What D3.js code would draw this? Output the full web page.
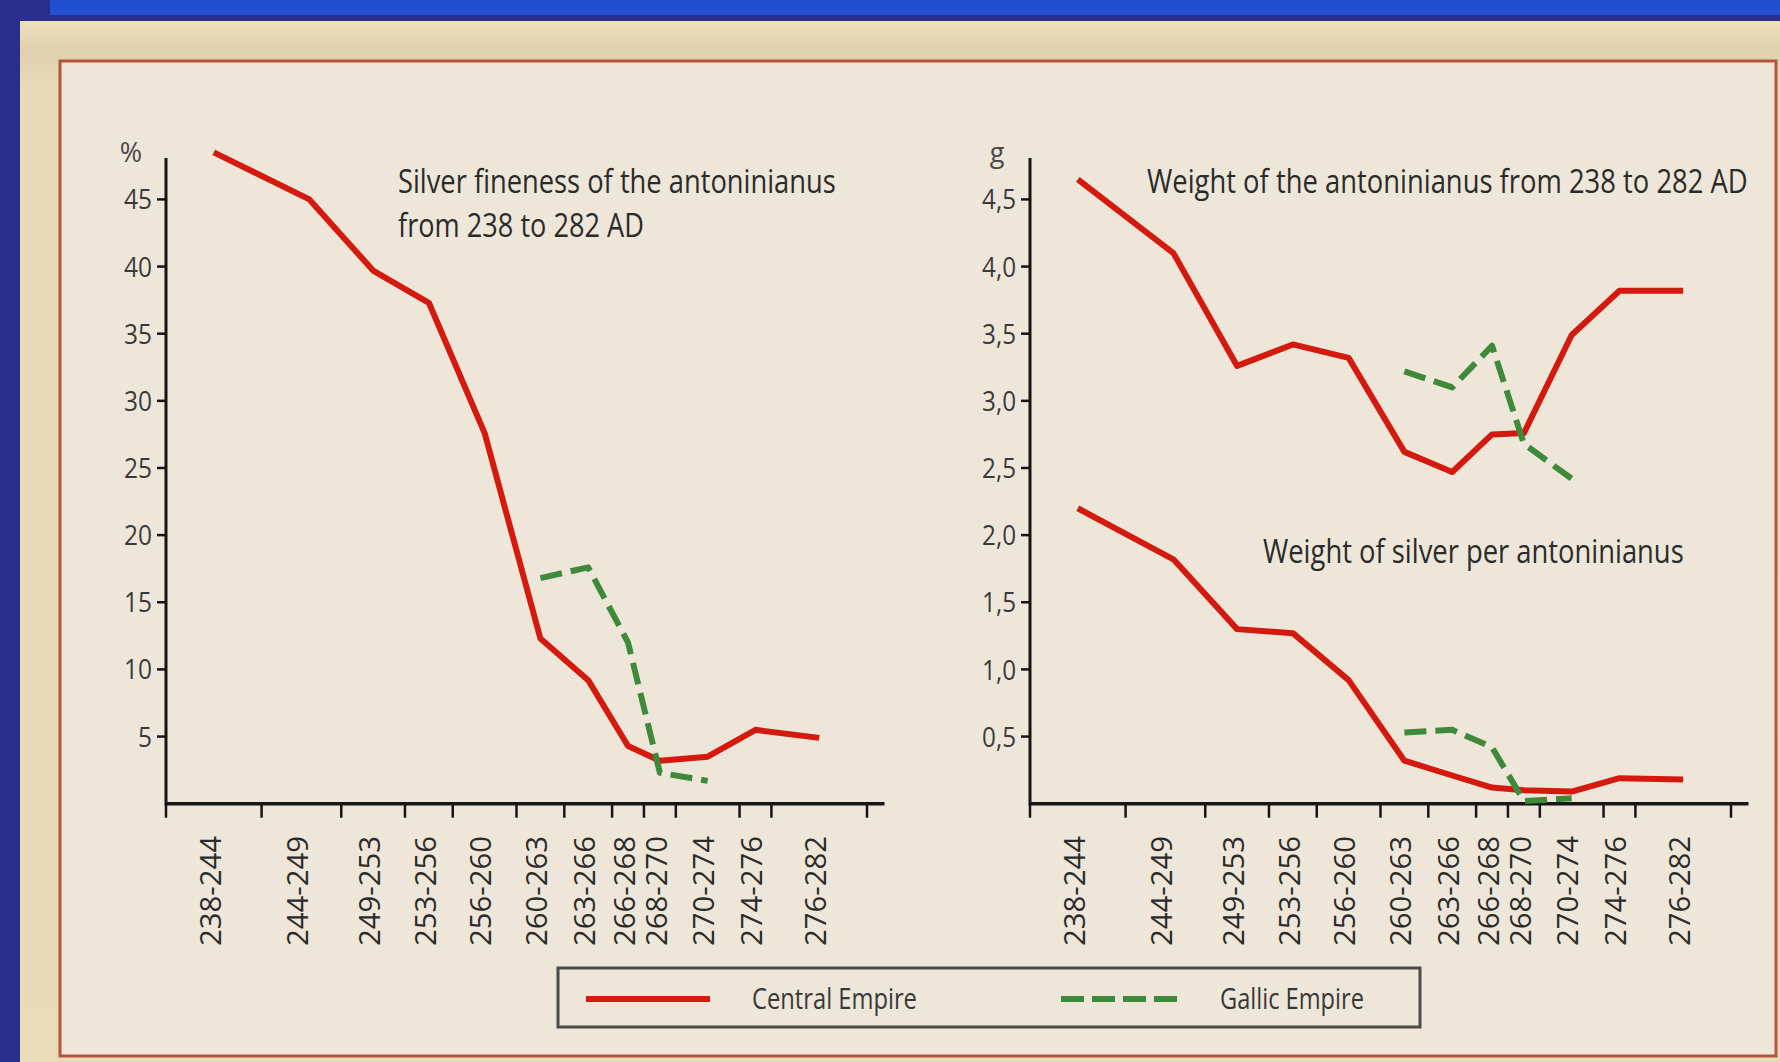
<!DOCTYPE html>
<html>
<head>
<meta charset="utf-8">
<script src="https://cdn.jsdelivr.net/npm/d3@7"></script>
<style>
  html, body { margin: 0; padding: 0; background: #2b2d8c; }
  svg { display: block; }
  text { font-family: "Open Sans", "Noto Sans", sans-serif; }
</style>
</head>
<body>
<svg id="chart" width="1780" height="1062"></svg>
<script>
// ---------------- DATA ----------------
const periodBounds = [238, 244, 249, 253, 256, 260, 263, 266, 268, 270, 274, 276, 282];
const periodLabels = ["238-244", "244-249", "249-253", "253-256", "256-260", "260-263",
                      "263-266", "266-268", "268-270", "270-274", "274-276", "276-282"];
const pointYear = [241, 247, 251, 254.5, 258, 261.5, 264.5, 267, 269, 272, 275, 279];
const gallicIndex = [5, 6, 7, 8, 9];

const finenessCentral = [48.5, 45.0, 39.7, 37.3, 27.6, 12.3, 9.2, 4.3, 3.2, 3.5, 5.5, 4.9];
const finenessGallic  = [16.8, 17.6, 12.0, 2.3, 1.7];
const weightCentral   = [4.65, 4.10, 3.26, 3.42, 3.32, 2.62, 2.47, 2.75, 2.76, 3.49, 3.82, 3.82];
const weightGallic    = [3.22, 3.10, 3.41, 2.68, 2.42];
const silverCentral   = [2.20, 1.82, 1.30, 1.27, 0.92, 0.32, 0.21, 0.12, 0.10, 0.09, 0.19, 0.18];
const silverGallic    = [0.53, 0.55, 0.42, 0.02, 0.04];

const leftTicks  = [5, 10, 15, 20, 25, 30, 35, 40, 45];
const rightTicks = [0.5, 1.0, 1.5, 2.0, 2.5, 3.0, 3.5, 4.0, 4.5];
const leftTickLabels  = ["5", "10", "15", "20", "25", "30", "35", "40", "45"];
const rightTickLabels = ["0,5", "1,0", "1,5", "2,0", "2,5", "3,0", "3,5", "4,0", "4,5"];

const leftTitle   = ["Silver fineness of the antoninianus", "from 238 to 282 AD"];
const rightTitle  = "Weight of the antoninianus from 238 to 282 AD";
const silverTitle = "Weight of silver per antoninianus";
const legendNames = ["Central Empire", "Gallic Empire"];

// ---------------- STYLE ----------------
const RED = "#d41a0e", GREEN = "#3e8a3a", INK = "#2b2b2b", AXIS = "#151515";

const svg = d3.select("#chart");

// background layers
svg.append("rect").attr("x", 0).attr("y", 0).attr("width", 1780).attr("height", 1062).attr("fill", "#2b2d8c");
svg.append("rect").attr("x", 50).attr("y", 0).attr("width", 1730).attr("height", 15).attr("fill", "#2150ce");
const defs = svg.append("defs");
const g1 = defs.append("linearGradient").attr("id", "beige").attr("x1", 0).attr("y1", 0).attr("x2", 0).attr("y2", 1);
g1.append("stop").attr("offset", "0").attr("stop-color", "#ecdfbd");
g1.append("stop").attr("offset", "0.03").attr("stop-color", "#dfd1ae");
g1.append("stop").attr("offset", "0.06").attr("stop-color", "#e7dab8");
g1.append("stop").attr("offset", "1").attr("stop-color", "#e8dbb8");
svg.append("rect").attr("x", 20).attr("y", 21).attr("width", 1760).attr("height", 1041).attr("fill", "url(#beige)");
svg.append("rect").attr("x", 60).attr("y", 61).attr("width", 1716).attr("height", 995)
  .attr("fill", "#eee7d9").attr("stroke", "#b4553c").attr("stroke-width", 3);

// horizontal condensing helper: squeeze a text to a target width with a scale transform
function condensed(parent, x, y, str, width, opts) {
  const o = Object.assign({ size: 30, weight: 400, fill: INK, rotate: 0, anchor: "start", dy: null }, opts || {});
  const t = parent.append("text").attr("font-size", o.size).attr("font-weight", o.weight)
    .attr("fill", o.fill).attr("text-anchor", o.anchor).text(str);
  if (o.dy) t.attr("dy", o.dy);
  const natural = t.node().getComputedTextLength();
  const k = Math.min(1, width / natural);
  t.attr("transform", `translate(${x},${y}) rotate(${o.rotate}) scale(${k},1)`);
  return t;
}

// ---------------- SCALES ----------------
const yBottom = 803.7, yAt45 = 199.4, axisTop = 158;
const xLeft  = d3.scaleLinear().domain([238, 282]).range([166, 867]);
const xRight = d3.scaleLinear().domain([238, 282]).range([1030, 1731]);
const yLeft  = d3.scaleLinear().domain([0, 45]).range([yBottom, yAt45]);
const yRight = d3.scaleLinear().domain([0, 4.5]).range([yBottom, yAt45]);

function drawAxes(x, y, ticks, tickLabels, unit, unitX) {
  const g = svg.append("g");
  const x0 = x(238), xEnd = x(283.1), y0 = y(0);
  g.append("line").attr("x1", x0).attr("x2", xEnd).attr("y1", y0).attr("y2", y0)
    .attr("stroke", AXIS).attr("stroke-width", 3.5);
  g.append("line").attr("x1", x0).attr("x2", x0).attr("y1", y0 + 1.5).attr("y2", axisTop)
    .attr("stroke", AXIS).attr("stroke-width", 3);
  g.selectAll(".xt").data(periodBounds).join("line")
    .attr("x1", d => x(d)).attr("x2", d => x(d)).attr("y1", y0).attr("y2", y0 + 14)
    .attr("stroke", AXIS).attr("stroke-width", 2.5);
  g.selectAll(".yt").data(ticks).join("line")
    .attr("x1", x0 - 9).attr("x2", x0).attr("y1", d => y(d)).attr("y2", d => y(d))
    .attr("stroke", AXIS).attr("stroke-width", 2.5);
  ticks.forEach((d, i) => {
    const lab = tickLabels[i];
    const w = lab.replace(",", "").length * 14 + (lab.includes(",") ? 6 : 0);
    condensed(g, x0 - 14, y(d), lab, w,
      { size: 28, weight: 500, anchor: "end", dy: "0.36em", fill: "#3a3a3a" });
  });
  g.append("text").attr("x", unitX).attr("y", 162).attr("text-anchor", "middle")
    .attr("font-size", 27).attr("fill", "#4a4a4a").text(unit);
  periodLabels.forEach((lab, i) => {
    const xm = x((periodBounds[i] + periodBounds[i + 1]) / 2) - 4;
    condensed(g, xm, 836, lab, 110, { size: 30, weight: 500, anchor: "end", dy: "0.36em", rotate: -90 });
  });
}

drawAxes(xLeft, yLeft, leftTicks, leftTickLabels, "%", 131);
drawAxes(xRight, yRight, rightTicks, rightTickLabels, "g", 997);

// ---------------- LINES ----------------
function drawSeries(x, y, values, idx, color, dashed) {
  const pts = values.map((v, i) => [x(pointYear[idx ? idx[i] : i]), y(v)]);
  svg.append("path").attr("d", d3.line()(pts))
    .attr("fill", "none").attr("stroke", color).attr("stroke-width", 6)
    .attr("stroke-linejoin", "round")
    .attr("stroke-dasharray", dashed ? "22,9" : null);
}
drawSeries(xLeft, yLeft, finenessCentral, null, RED, false);
drawSeries(xLeft, yLeft, finenessGallic, gallicIndex, GREEN, true);
drawSeries(xRight, yRight, weightCentral, null, RED, false);
drawSeries(xRight, yRight, weightGallic, gallicIndex, GREEN, true);
drawSeries(xRight, yRight, silverCentral, null, RED, false);
drawSeries(xRight, yRight, silverGallic, gallicIndex, GREEN, true);

// ---------------- TITLES ----------------
const tOpts = { size: 33, weight: 500 };
condensed(svg, 398, 193, leftTitle[0], 438, tOpts);
condensed(svg, 398, 237, leftTitle[1], 246, tOpts);
condensed(svg, 1147, 193, rightTitle, 601, tOpts);
condensed(svg, 1263, 563, silverTitle, 421, tOpts);

// ---------------- LEGEND ----------------
const lg = svg.append("g");
lg.append("rect").attr("x", 558).attr("y", 968).attr("width", 862).attr("height", 59)
  .attr("fill", "none").attr("stroke", "#4a4a4a").attr("stroke-width", 3);
lg.append("line").attr("x1", 586).attr("x2", 710).attr("y1", 999).attr("y2", 999)
  .attr("stroke", RED).attr("stroke-width", 6);
lg.append("line").attr("x1", 1061).attr("x2", 1178).attr("y1", 999).attr("y2", 999)
  .attr("stroke", GREEN).attr("stroke-width", 6).attr("stroke-dasharray", "23,8");
condensed(lg, 752, 1009, legendNames[0], 165, { size: 29, fill: "#383838" });
condensed(lg, 1220, 1009, legendNames[1], 144, { size: 29, fill: "#383838" });
</script>
</body>
</html>
